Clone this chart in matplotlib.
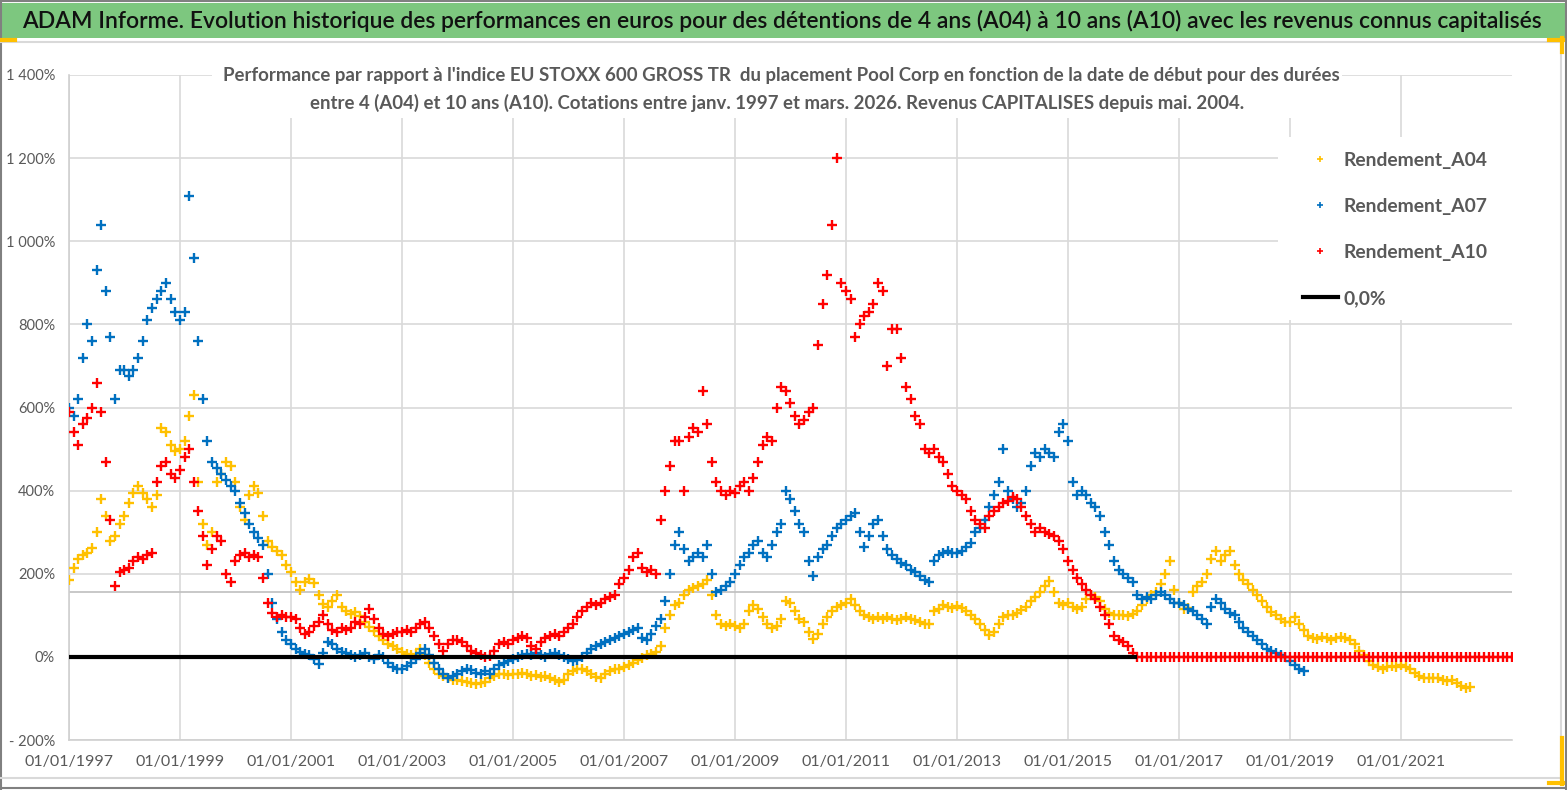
import matplotlib
matplotlib.use('Agg')
import matplotlib.pyplot as plt
from matplotlib.lines import Line2D
from matplotlib.patches import Rectangle
import pandas as pd

plt.rcParams['font.family'] = ['Lato', 'DejaVu Sans']

W, H = 1567, 790

# monthly readings (%) taken off the original chart, first value = 01/01/1997
rendement_a04 = [
    185, 215, 235, 245, 250, 262, 300, 380, 340, 280, 290, 320,      # 1997
    340, 370, 395, 410, 395, 380, 360, 390, 550, 540, 510, 495,      # 1998
    500, 520, 580, 630, 420, 320, 270, 300, 420, 440, 470, 460,      # 1999
    420, 360, 330, 390, 410, 395, 340, 280, 265, 255, 245, 220,      # 2000
    205, 180, 160, 180, 188, 178, 150, 128, 120, 135, 150, 120,      # 2001
    110, 102, 108, 98, 85, 72, 62, 50, 40, 32, 25, 18,               # 2002
    12, 8, 4, 8, 18, 5, -15, -30, -40, -47, -52, -55,                # 2003
    -55, -57, -60, -62, -65, -63, -60, -52, -45, -42, -40, -43,      # 2004
    -42, -40, -38, -42, -45, -44, -48, -46, -50, -55, -60, -55,      # 2005
    -40, -35, -30, -28, -35, -42, -48, -50, -42, -35, -30, -28,      # 2006
    -25, -20, -15, -8, -2, 5, 8, 12, 25, 70, 100, 125,               # 2007
    130, 150, 160, 165, 170, 175, 185, 150, 100, 80, 75, 80,         # 2008
    75, 70, 80, 110, 125, 115, 95, 80, 70, 75, 90, 135,              # 2009
    130, 110, 90, 85, 60, 42, 55, 80, 95, 110, 120, 125,             # 2010
    130, 140, 125, 110, 100, 95, 92, 95, 90, 95, 92, 88,             # 2011
    90, 95, 92, 88, 85, 80, 78, 110, 115, 125, 120, 118,             # 2012
    122, 118, 110, 100, 90, 80, 65, 52, 60, 80, 95, 100,             # 2013
    100, 105, 112, 120, 135, 145, 155, 170, 182, 155, 130, 125,      # 2014
    130, 120, 115, 120, 140, 150, 145, 135, 115, 105, 100, 100,      # 2015
    100, 98, 102, 110, 125, 140, 150, 155, 175, 200, 230, 160,       # 2016
    130, 115, 118, 155, 170, 180, 200, 235, 255, 230, 245, 255,      # 2017
    220, 200, 185, 175, 160, 150, 135, 120, 108, 100, 92, 85,        # 2018
    85, 95, 80, 65, 50, 45, 42, 48, 45, 40, 45, 48,                  # 2019
    45, 40, 30, 15, 5, -10, -20, -25, -28, -25, -22, -25,            # 2020
    -20, -25, -30, -38, -45, -50, -52, -50, -52, -55, -57, -55,      # 2021
    -62, -70, -75, -72,                                              # 2022
]

rendement_a07 = [
    600, 580, 620, 720, 800, 760, 930, 1040, 880, 770, 620, 690,     # 1997
    690, 675, 690, 720, 760, 810, 840, 860, 880, 900, 860, 830,      # 1998
    810, 830, 1110, 960, 760, 620, 520, 470, 455, 440, 425, 410,     # 1999
    400, 370, 345, 320, 300, 285, 270, 200, 130, 90, 60, 40,         # 2000
    30, 20, 12, 8, 5, -5, -18, 10, 35, 30, 20, 12,                   # 2001
    10, 5, 0, 5, 10, 0, -5, 5, 0, -15, -25, -30,                     # 2002
    -28, -22, -15, -5, 10, 18, 5, -15, -30, -42, -50, -45,           # 2003
    -40, -35, -30, -32, -38, -40, -35, -40, -30, -20, -15, -10,      # 2004
    -5, 0, 5, 8, 5, 10, 5, 0, 8, 10, 5, 0,                           # 2005
    -5, -10, -8, 0, 10, 20, 25, 30, 35, 40, 45, 50,                  # 2006
    55, 60, 65, 70, 45, 40, 55, 75, 90, 135, 200, 270,               # 2007
    300, 260, 230, 240, 250, 240, 270, 200, 155, 160, 170, 180,      # 2008
    200, 220, 240, 250, 270, 280, 250, 240, 270, 300, 320, 400,      # 2009
    380, 350, 320, 300, 230, 195, 240, 260, 270, 290, 310, 320,      # 2010
    330, 340, 345, 300, 265, 290, 320, 330, 290, 260, 245, 235,      # 2011
    225, 220, 210, 205, 195, 185, 180, 230, 245, 250, 255, 250,      # 2012
    250, 255, 265, 275, 300, 310, 330, 360, 390, 420, 500, 400,      # 2013
    380, 360, 370, 400, 460, 490, 480, 500, 490, 480, 540, 560,      # 2014
    520, 420, 390, 400, 390, 370, 360, 340, 300, 270, 230, 210,      # 2015
    200, 190, 180, 150, 140, 145, 140, 150, 155, 150, 140, 130,      # 2016
    130, 125, 115, 110, 100, 90, 80, 120, 140, 130, 115, 105,        # 2017
    100, 85, 70, 60, 50, 40, 30, 20, 15, 10, 5, 0,                   # 2018
    -10, -20, -30, -35,                                              # 2019
]

rendement_a10 = [
    590, 540, 510, 560, 575, 600, 660, 590, 470, 330, 170, 205,      # 1997
    210, 215, 230, 240, 235, 245, 250, 420, 460, 470, 440, 430,      # 1998
    450, 480, 500, 420, 350, 290, 220, 260, 290, 280, 200, 180,      # 1999
    230, 245, 250, 240, 245, 240, 190, 130, 105, 95, 100, 95,        # 2000
    95, 90, 70, 55, 60, 75, 85, 100, 80, 65, 60, 70,                 # 2001
    65, 70, 85, 80, 95, 115, 90, 70, 55, 50, 55, 60,                 # 2002
    60, 65, 60, 70, 80, 85, 70, 50, 30, 15, 30, 40,                  # 2003
    40, 35, 25, 15, 10, 5, 0, 2, 15, 30, 35, 30,                     # 2004
    40, 45, 50, 45, 25, 20, 35, 45, 50, 55, 50, 60,                  # 2005
    70, 80, 95, 110, 120, 130, 125, 130, 140, 145, 150, 175,         # 2006
    190, 210, 240, 250, 215, 205, 210, 200, 330, 400, 460, 520,      # 2007
    520, 400, 530, 550, 540, 640, 560, 470, 420, 400, 390, 400,      # 2008
    395, 410, 420, 400, 430, 470, 510, 530, 520, 600, 650, 640,      # 2009
    610, 580, 560, 570, 590, 600, 750, 850, 920, 1040, 1200, 900,    # 2010
    880, 860, 770, 800, 820, 830, 850, 900, 880, 700, 790, 790,      # 2011
    720, 650, 620, 580, 560, 500, 490, 500, 480, 470, 440, 410,      # 2012
    400, 390, 380, 350, 330, 320, 310, 340, 350, 360, 370, 375,      # 2013
    385, 380, 360, 340, 320, 300, 310, 300, 295, 290, 280, 260,      # 2014
    230, 210, 190, 175, 160, 150, 140, 120, 100, 80, 50, 40,         # 2015
    35, 25, 10,                                                      # 2016
] + [0] * 82   # no full 10-year history after spring 2016: plotted at 0

zero_dates = ['1997-01-15', '2016-03-20']
zero_values = [0, 0]

series_names = ['Rendement_A04', 'Rendement_A07', 'Rendement_A10']
series_colors = ['#FFC000', '#0070C0', '#FF0000']
y_ticks = [-200, 0, 200, 400, 600, 800, 1000, 1200, 1400]
y_labels = ['- 200%', '0%', '200%', '400%', '600%', '800%', '1 000%', '1 200%', '1 400%']
x_years = [1997, 1999, 2001, 2003, 2005, 2007, 2009, 2011, 2013, 2015, 2017, 2019, 2021]
x_labels = ['01/01/%d' % y for y in x_years]

title = ("ADAM Informe. Evolution historique des performances en euros pour des détentions "
         "de 4 ans (A04) à 10 ans (A10) avec les revenus connus capitalisés")
subtitle1 = ("Performance par rapport à l'indice EU STOXX 600 GROSS TR  du placement Pool Corp "
             "en fonction de la date de début pour des durées")
subtitle2 = ("entre 4 (A04) et 10 ans (A10). Cotations entre janv. 1997 et mars. 2026. "
             "Revenus CAPITALISES depuis mai. 2004.")


def fx(px):
    return px / W


def fy(py):
    return 1 - py / H


fig = plt.figure(figsize=(W / 100, H / 100), dpi=100)
ax = fig.add_axes([fx(69), fy(740), fx(1512) - fx(69), fy(75) - fy(740)])

for vals, name, col in zip([rendement_a04, rendement_a07, rendement_a10], series_names, series_colors):
    dates = pd.date_range('1997-01-01', periods=len(vals), freq='MS')
    ax.plot(dates, vals, ls='none', marker='+', ms=7, mew=1.7, color=col, label=name, zorder=3)
ax.plot(pd.to_datetime(zero_dates), zero_values, color='black', lw=3, zorder=4, label='0,0%')
ax.axhline(157, color='#BFBFBF', lw=1.2, zorder=2)

ax.set_ylim(-200, 1400)
ax.set_xlim(pd.Timestamp('1997-01-01'), pd.Timestamp('2023-01-01'))
ax.set_yticks(y_ticks)
ax.set_yticklabels(y_labels)
ax.set_xticks(pd.to_datetime(['%d-01-01' % y for y in x_years]))
ax.set_xticklabels(x_labels)
ax.grid(True, color='#D9D9D9', lw=1.2)
ax.set_axisbelow(True)
for s in ['top', 'right']:
    ax.spines[s].set_visible(False)
for s in ['left', 'bottom']:
    ax.spines[s].set_color('#D0D0D0')
    ax.spines[s].set_linewidth(1.2)
ax.tick_params(length=0, labelcolor='#595959')
ax.tick_params(axis='y', labelsize=10.5, pad=10)
ax.tick_params(axis='x', labelsize=11.5, pad=11)

# white boxes behind the subtitle and the legend
fig.add_artist(Rectangle((fx(212), fy(118)), fx(1342) - fx(212), fy(62) - fy(118),
                         transform=fig.transFigure, fc='white', ec='none', zorder=1))
fig.add_artist(Rectangle((fx(1278), fy(320)), fx(1514) - fx(1278), fy(137) - fy(320),
                         transform=fig.transFigure, fc='white', ec='none', zorder=1))

# frame, banner and selection marks
fig.add_artist(Rectangle((fx(2), fy(38)), fx(1565) - fx(2), fy(3) - fy(38),
                         transform=fig.transFigure, fc='#7DC77F', ec='none', zorder=1))
frame = [
    ([0, W], [1, 1], '#808080', 1.5),
    ([1, 1], [0, H], '#808080', 1.5),
    ([W - 1, W - 1], [0, H], '#808080', 1.5),
    ([0, W], [788, 788], '#808080', 1.5),
    ([0, 1561], [42, 42], '#D9D9D9', 1.5),
    ([1561, 1561], [42, 778], '#D9D9D9', 1.5),
    ([0, 1561], [778, 778], '#D9D9D9', 1.5),
    ([0, 15], [40, 40], '#FFC000', 3),
    ([1549, 1563], [40, 40], '#FFC000', 3),
    ([1562, 1562], [38, 52], '#FFC000', 3),
    ([1562, 1562], [738, 784], '#FFC000', 3),
    ([1549, 1563], [783, 783], '#FFC000', 3),
]
for xs, ys, col, lw in frame:
    fig.add_artist(Line2D([fx(v) for v in xs], [fy(v) for v in ys], color=col, lw=lw,
                          transform=fig.transFigure, zorder=2))

renderer = fig.canvas.get_renderer()


def fit_width(txt, width_px):
    w = txt.get_window_extent(renderer).width
    txt.set_fontsize(txt.get_fontsize() * width_px / w)


t = fig.text(fx(22), fy(21), title, ha='left', va='center', fontsize=17, weight=600,
             color='#111111', zorder=3)
fit_width(t, 1523)
s1 = fig.text(fx(781), fy(75), subtitle1, ha='center', va='center', fontsize=13,
              weight='bold', color='#595959', zorder=3)
fit_width(s1, 1112)
s2 = fig.text(fx(777), fy(103), subtitle2, ha='center', va='center', fontsize=s1.get_fontsize(),
              weight='bold', color='#595959', zorder=3)

handles = [Line2D([], [], ls='none', marker='+', ms=5, mew=1.2, color=c) for c in series_colors]
handles.append(Line2D([], [], color='black', lw=3))
fig.legend(handles, series_names + ['0,0%'], loc='upper left', bbox_to_anchor=(fx(1303), fy(152)),
           frameon=False, prop=dict(size=13.9, weight='bold'), labelcolor='#595959',
           handlelength=1.8, handletextpad=0.3, labelspacing=1.5, borderpad=0, borderaxespad=0)

fig.savefig('out.png', dpi=100)
